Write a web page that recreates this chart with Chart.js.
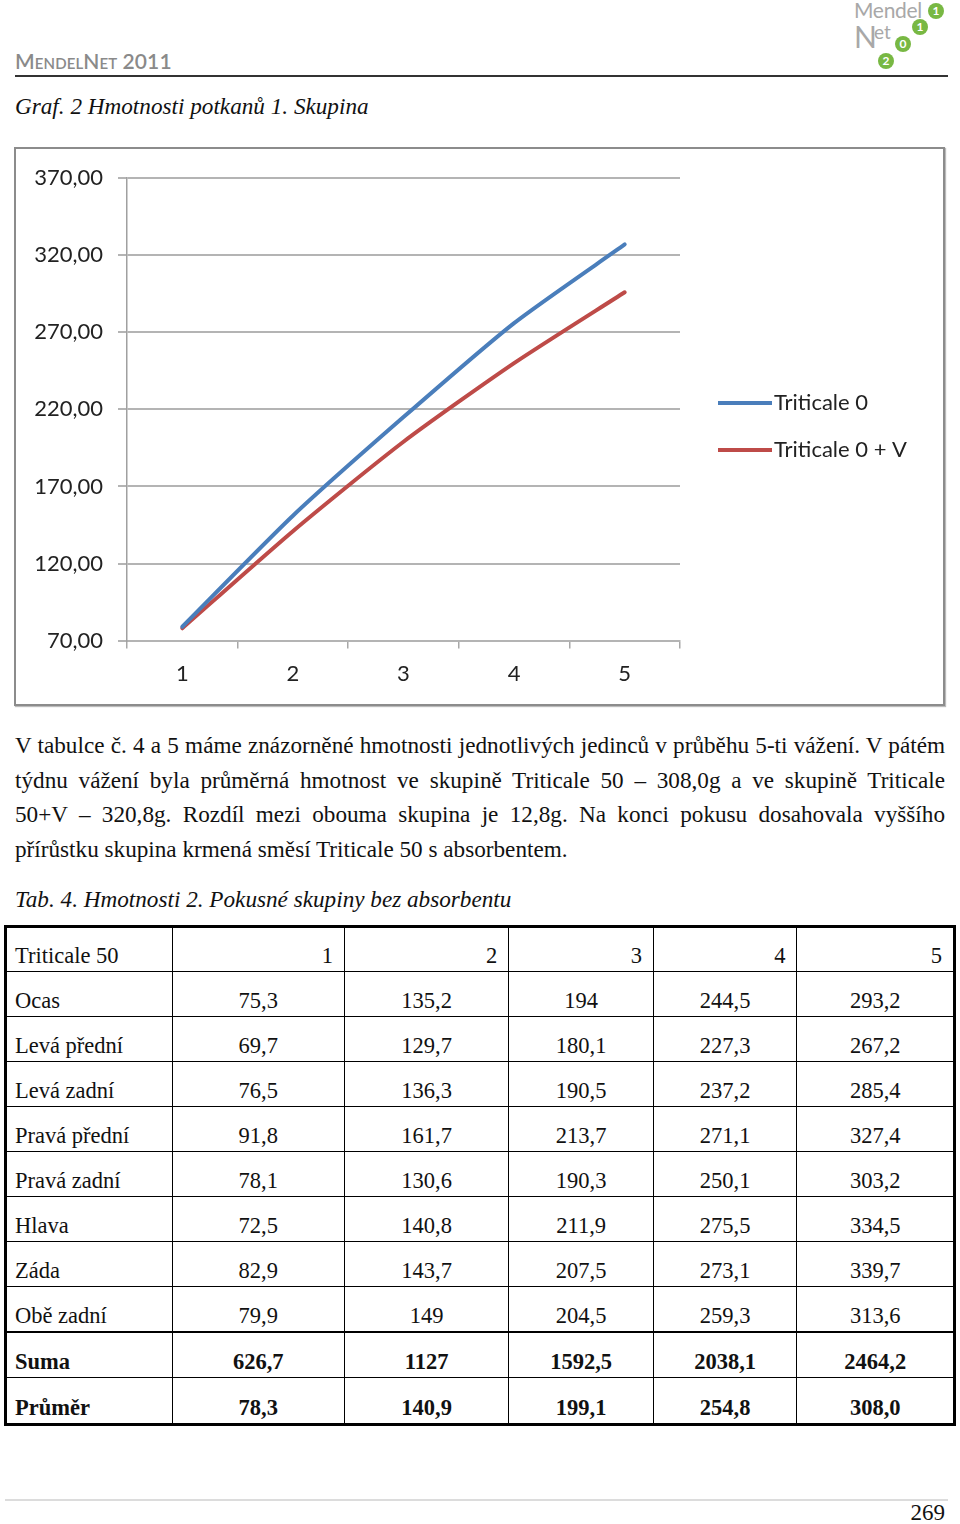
<!DOCTYPE html>
<html lang="cs">
<head>
<meta charset="utf-8">
<script src="https://cdn.jsdelivr.net/npm/chart.js@4.4.1/dist/chart.umd.min.js"></script>
<style>
  html, body { margin: 0; padding: 0; background: #fff; }
  body { width: 960px; height: 1524px; position: relative; overflow: hidden; font-family: "Liberation Serif", "Times New Roman", serif; color: #111; }
  .abs { position: absolute; }
  #hdr { left: 15px; top: 48px; font-family: Lato, "Open Sans", sans-serif; font-size: 21px; color: #8a8a8a; font-variant: small-caps; letter-spacing: 0.1px; font-weight: 600; }
  #hdrline { left: 15px; top: 75px; width: 933px; height: 2px; background: #333; }
  #logo { left: 852px; top: 0; width: 100px; height: 72px; font-family: Lato, "Open Sans", sans-serif; color: #a8a8a8; }
  .dot { position: absolute; width: 16px; height: 16px; border-radius: 50%; background: #78b843; color: #fff; font-size: 12px; font-weight: 700; text-align: center; line-height: 16px; font-family: Lato, sans-serif; }
  #caption { left: 15px; top: 93px; font-style: italic; font-size: 23.2px; }
  #box { left: 14px; top: 147px; width: 927px; height: 555px; border: 2px solid #8c8c8c; box-shadow: 1px 1px 1px #bbb; }
  #chartwrap { left: 17px; top: 150px; width: 924px; height: 554px; }
  #para { left: 15px; top: 728px; width: 930px; font-size: 23.2px; line-height: 34.7px; }
  #para div { text-align: justify; text-align-last: justify; white-space: nowrap; }
  #para div.last { text-align-last: left; }
  #tabcap { left: 15px; top: 886px; font-style: italic; font-size: 23.2px; }
  table { position: absolute; left: 4px; top: 925px; width: 952px; border-collapse: collapse; border: 3px solid #000; font-size: 22.5px; }
  td { border: 1px solid #000; height: 41px; padding: 0 0 3px 0; vertical-align: bottom; text-align: center; line-height: 24px; }
  td.lab { text-align: left; padding-left: 8px; }
  tr.head td { text-align: right; padding-right: 11px; height: 40px; }
  tr.head td.lab { text-align: left; }
  tr.bold td { font-weight: bold; }
  tr.sep td { border-top: 2px solid #000; }
  tr.lastrow td { height: 42px; }
  #footline { left: 5px; top: 1499px; width: 943px; height: 2px; background: #dcdcdc; }
  #page { left: 905px; top: 1500px; font-size: 23px; width: 40px; text-align: right; }
</style>
</head>
<body>
<div id="hdr" class="abs">MendelNet 2011</div>
<div id="hdrline" class="abs"></div>
<div id="logo" class="abs">
  <div class="abs" style="left:2px;top:-3px;font-size:21px;letter-spacing:-0.3px;">Mendel</div>
  <div class="abs" style="left:2px;top:18px;font-size:30px;">N</div>
  <div class="abs" style="left:22px;top:20px;font-size:19px;">et</div>
  <div class="dot" style="left:76px;top:3px;">1</div>
  <div class="dot" style="left:60px;top:19px;">1</div>
  <div class="dot" style="left:43px;top:36px;">0</div>
  <div class="dot" style="left:26px;top:53px;">2</div>
</div>
<div id="caption" class="abs">Graf. 2 Hmotnosti potkanů 1. Skupina</div>
<div id="box" class="abs"></div>
<div id="chartwrap" class="abs"><canvas id="c"></canvas></div>
<div id="para" class="abs">
  <div>V tabulce č. 4 a 5 máme znázorněné hmotnosti jednotlivých jedinců v průběhu 5-ti vážení. V pátém</div>
  <div>týdnu vážení byla průměrná hmotnost ve skupině Triticale 50 – 308,0g a ve skupině Triticale</div>
  <div>50+V – 320,8g. Rozdíl mezi obouma skupina je 12,8g. Na konci pokusu dosahovala vyššího</div>
  <div class="last">přírůstku skupina krmená směsí Triticale 50 s absorbentem.</div>
</div>
<div id="tabcap" class="abs">Tab. 4. Hmotnosti 2. Pokusné skupiny bez absorbentu</div>
<table id="tab">
  <colgroup><col style="width:167px"><col style="width:173px"><col style="width:165px"><col style="width:145px"><col style="width:144px"><col style="width:158px"></colgroup>
  <tbody id="tb"></tbody>
</table>
<div id="footline" class="abs"></div>
<div id="page" class="abs">269</div>

<script>
// ---- chart data ----
const weeks = ['1', '2', '3', '4', '5'];
const seriesNames = ['Triticale 0', 'Triticale 0 + V'];
const triticale0 = [79, 151, 215, 276, 327];
const triticale0V = [78, 141, 199, 250, 296];
const yTicks = [70, 120, 170, 220, 270, 320, 370];

// ---- table data ----
const tableTitle = 'Triticale 50';
const tableHeaders = ['1', '2', '3', '4', '5'];
const rowLabels = ['Ocas', 'Levá přední', 'Levá zadní', 'Pravá přední', 'Pravá zadní', 'Hlava', 'Záda', 'Obě zadní'];
const rowValues = [
  ['75,3', '135,2', '194', '244,5', '293,2'],
  ['69,7', '129,7', '180,1', '227,3', '267,2'],
  ['76,5', '136,3', '190,5', '237,2', '285,4'],
  ['91,8', '161,7', '213,7', '271,1', '327,4'],
  ['78,1', '130,6', '190,3', '250,1', '303,2'],
  ['72,5', '140,8', '211,9', '275,5', '334,5'],
  ['82,9', '143,7', '207,5', '273,1', '339,7'],
  ['79,9', '149', '204,5', '259,3', '313,6']
];
const sumLabel = 'Suma';
const sumValues = ['626,7', '1127', '1592,5', '2038,1', '2464,2'];
const meanLabel = 'Průměr';
const meanValues = ['78,3', '140,9', '199,1', '254,8', '308,0'];

// build table
(function () {
  const tb = document.getElementById('tb');
  function addRow(label, vals, cls) {
    const tr = document.createElement('tr');
    if (cls) tr.className = cls;
    const td0 = document.createElement('td');
    td0.className = 'lab';
    td0.textContent = label;
    tr.appendChild(td0);
    vals.forEach(v => { const td = document.createElement('td'); td.textContent = v; tr.appendChild(td); });
    tb.appendChild(tr);
  }
  addRow(tableTitle, tableHeaders, 'head');
  rowLabels.forEach((l, i) => addRow(l, rowValues[i]));
  addRow(sumLabel, sumValues, 'bold sep');
  addRow(meanLabel, meanValues, 'bold lastrow');
})();

const blue = '#4a7ebb';
const red = '#be4b48';
const tickFont = { family: 'Lato, "Open Sans", sans-serif', size: 22 };

const legendPlugin = {
  id: 'sideLegend',
  afterDraw(chart) {
    const ctx = chart.ctx;
    const ys = [253, 300];
    ctx.save();
    chart.data.datasets.forEach((ds, i) => {
      ctx.strokeStyle = ds.borderColor;
      ctx.lineWidth = 4;
      ctx.lineCap = 'butt';
      ctx.beginPath();
      ctx.moveTo(701, ys[i]);
      ctx.lineTo(755, ys[i]);
      ctx.stroke();
      ctx.fillStyle = '#222';
      ctx.font = '22px Lato, "Open Sans", sans-serif';
      ctx.textBaseline = 'middle';
      ctx.textAlign = 'left';
      ctx.fillText(ds.label, 757, ys[i]);
    });
    ctx.restore();
  }
};

new Chart(document.getElementById('c'), {
  type: 'line',
  data: {
    labels: weeks,
    datasets: [
      { label: seriesNames[0], data: triticale0, borderColor: blue, backgroundColor: blue },
      { label: seriesNames[1], data: triticale0V, borderColor: red, backgroundColor: red }
    ]
  },
  options: {
    responsive: true,
    maintainAspectRatio: false,
    animation: false,
    layout: { padding: { left: 0, right: 261, top: 27, bottom: 5 } },
    elements: {
      line: { borderWidth: 4, tension: 0.22, borderCapStyle: 'round' },
      point: { radius: 0, hoverRadius: 0 }
    },
    plugins: { legend: { display: false }, tooltip: { enabled: false } },
    scales: {
      x: {
        offset: true,
        grid: { drawOnChartArea: false, offset: true, tickLength: 8, color: '#a8a8a8', lineWidth: 1.5 },
        border: { color: '#b4b4b4', width: 2 },
        ticks: { font: tickFont, color: '#222', padding: 12 }
      },
      y: {
        min: yTicks[0],
        max: yTicks[yTicks.length - 1],
        afterBuildTicks(scale) { scale.ticks = yTicks.map(v => ({ value: v })); },
        afterFit(scale) { scale.width = 110; },
        grid: { color: '#b4b4b4', lineWidth: 2, tickLength: 9 },
        border: { color: '#a0a0a0', width: 1.5 },
        ticks: {
          font: tickFont, color: '#222', padding: 15,
          callback: v => v.toFixed(2).replace('.', ',')
        }
      }
    }
  },
  plugins: [legendPlugin]
});
</script>
</body>
</html>
